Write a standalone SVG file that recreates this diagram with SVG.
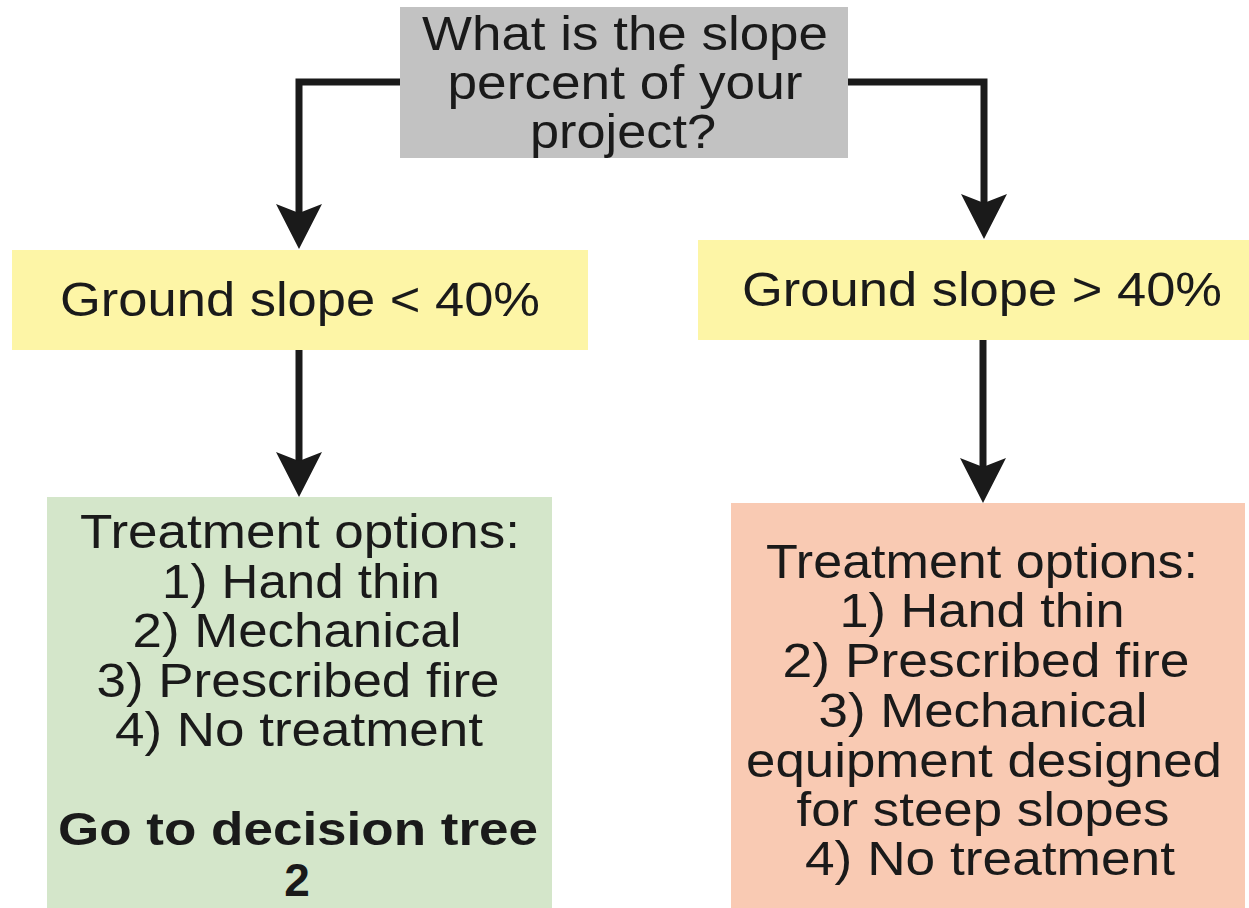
<svg xmlns="http://www.w3.org/2000/svg" width="1249" height="908" viewBox="0 0 1249 908">
<style>
.t{font-family:"Liberation Sans",Arial,Helvetica,sans-serif;fill:#1a1a1a;text-anchor:middle;font-size:49px}
.b{font-weight:bold;font-size:46px}
.c{fill:none;stroke:#1a1a1a;stroke-width:7;stroke-linejoin:miter}
</style>
<defs>
<marker id="ah" markerUnits="userSpaceOnUse" viewBox="-10 -24 46 48" refX="0" refY="0" markerWidth="46" markerHeight="48" orient="auto">
<path d="M36,0 L-9,-23 L0,0 L-9,23 Z" fill="#1a1a1a"/>
</marker>
</defs>
<rect width="1249" height="908" fill="#ffffff"/>
<g id="connectors">
<path class="c" d="M400,82 H299 V213" marker-end="url(#ah)"/>
<path class="c" d="M848,82 H984 V203" marker-end="url(#ah)"/>
<path class="c" d="M299,350 V461" marker-end="url(#ah)"/>
<path class="c" d="M983,340 V467" marker-end="url(#ah)"/>
</g>
<g id="question">
<rect x="400" y="7" width="448" height="151" fill="#c2c2c2"/>
<text class="t" x="625" y="50" textLength="406" lengthAdjust="spacingAndGlyphs">What is the slope</text>
<text class="t" x="625" y="99" textLength="355" lengthAdjust="spacingAndGlyphs">percent of your</text>
<text class="t" x="623" y="148" textLength="186" lengthAdjust="spacingAndGlyphs">project?</text>
</g>
<g id="slope-low">
<rect x="12" y="250" width="576" height="100" fill="#fdf5a6"/>
<text class="t" x="300" y="316" textLength="480" lengthAdjust="spacingAndGlyphs">Ground slope &lt; 40%</text>
</g>
<g id="slope-high">
<rect x="698" y="240" width="551" height="100" fill="#fdf5a6"/>
<text class="t" x="982" y="306" textLength="480" lengthAdjust="spacingAndGlyphs">Ground slope &gt; 40%</text>
</g>
<g id="options-low">
<rect x="47" y="497" width="505" height="411" fill="#d4e6ca"/>
<text class="t" x="300" y="548" textLength="440" lengthAdjust="spacingAndGlyphs">Treatment options:</text>
<text class="t" x="301" y="598" textLength="278" lengthAdjust="spacingAndGlyphs">1) Hand thin</text>
<text class="t" x="297" y="647" textLength="329" lengthAdjust="spacingAndGlyphs">2) Mechanical</text>
<text class="t" x="298" y="697" textLength="403" lengthAdjust="spacingAndGlyphs">3) Prescribed fire</text>
<text class="t" x="299" y="746" textLength="368" lengthAdjust="spacingAndGlyphs">4) No treatment</text>
<text class="t b" x="298" y="845" textLength="480" lengthAdjust="spacingAndGlyphs">Go to decision tree</text>
<text class="t b" x="297" y="896">2</text>
</g>
<g id="options-high">
<rect x="731" y="503" width="514" height="405" fill="#f9cab3"/>
<text class="t" x="982" y="578" textLength="432" lengthAdjust="spacingAndGlyphs">Treatment options:</text>
<text class="t" x="982" y="627" textLength="285" lengthAdjust="spacingAndGlyphs">1) Hand thin</text>
<text class="t" x="986" y="677" textLength="407" lengthAdjust="spacingAndGlyphs">2) Prescribed fire</text>
<text class="t" x="983" y="727" textLength="329" lengthAdjust="spacingAndGlyphs">3) Mechanical</text>
<text class="t" x="984" y="777" textLength="476" lengthAdjust="spacingAndGlyphs">equipment designed</text>
<text class="t" x="983" y="826" textLength="373" lengthAdjust="spacingAndGlyphs">for steep slopes</text>
<text class="t" x="990" y="875" textLength="370" lengthAdjust="spacingAndGlyphs">4) No treatment</text>
</g>
</svg>
